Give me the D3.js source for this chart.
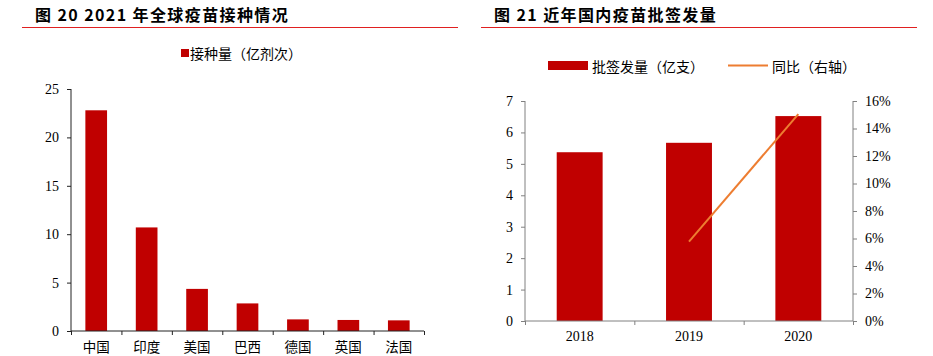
<!DOCTYPE html>
<html><head><meta charset="utf-8">
<script src="https://cdn.jsdelivr.net/npm/d3@7"></script>
<style>
body{margin:0;background:#fff;}
svg{display:block;}
.ttl{font-family:"Noto Sans CJK SC","Noto Sans",sans-serif;font-weight:700;font-size:16px;fill:#000;letter-spacing:1.4px;}
.lg{font-family:"Noto Sans CJK SC","Noto Sans",sans-serif;font-size:14px;fill:#000;}
.num text{font-family:"Liberation Serif","Times New Roman",serif;font-size:14px;fill:#000;}
.cat text{font-family:"Noto Sans CJK SC",sans-serif;font-size:13.5px;fill:#000;}
</style>
</head><body>
<svg id="c" width="933" height="356"></svg>
<script>
// ---- Data ----
const countries = ["中国","印度","美国","巴西","德国","英国","法国"];
const doses = [22.8, 10.7, 4.35, 2.85, 1.2, 1.14, 1.1];
const leftTicks = [0,5,10,15,20,25];

const years = ["2018","2019","2020"];
const lotRelease = [5.37, 5.67, 6.52];
const yoyYears = ["2019","2020"];
const yoy = [0.0577, 0.1505];
const leftTicks2 = [0,1,2,3,4,5,6,7];
const rightTicks2 = [0,0.02,0.04,0.06,0.08,0.10,0.12,0.14,0.16];

const RED = "#C00000", ORANGE = "#ED7D31";
const svg = d3.select("#c");

// ---- Titles ----
svg.append("text").attr("class","ttl").attr("x",35).attr("y",21).text("图 20 2021 年全球疫苗接种情况");
svg.append("line").attr("x1",22).attr("x2",458).attr("y1",27.5).attr("y2",27.5).attr("stroke","#e02020").attr("stroke-width",1);
svg.append("text").attr("class","ttl").attr("x",494).attr("y",21).text("图 21 近年国内疫苗批签发量");
svg.append("line").attr("x1",481).attr("x2",917).attr("y1",27.5).attr("y2",27.5).attr("stroke","#e02020").attr("stroke-width",1);

// ---- Left chart ----
{
  const x0=71, x1=424, yb=331, yt=89;
  const x = d3.scaleBand().domain(countries).range([x0,x1]).paddingInner(0.57).paddingOuter(0.285);
  const xi = d3.scaleLinear().domain([0,countries.length]).range([x0,x1]);
  const y = d3.scaleLinear().domain([0,25]).range([yb,yt]);
  const g = svg.append("g");
  g.selectAll("rect.bar").data(countries).join("rect").attr("class","bar")
    .attr("x",d=>x(d)).attr("width",x.bandwidth())
    .attr("y",(d,i)=>y(doses[i])).attr("height",(d,i)=>yb-y(doses[i]))
    .attr("fill",RED);
  const ya = g.append("g").attr("class","num").attr("transform",`translate(${x0},0)`)
    .call(d3.axisLeft(y).tickValues(leftTicks).tickSize(4).tickPadding(8).tickFormat(d3.format("d")));
  ya.select(".domain").attr("stroke","#222").attr("d",`M0,${yt}V${yb}`);
  ya.selectAll(".tick line").attr("stroke","#222");
  const xa = g.append("g").attr("transform",`translate(0,${yb})`)
    .call(d3.axisBottom(xi).tickValues(d3.range(countries.length+1)).tickSize(4).tickFormat(""));
  xa.select(".domain").attr("stroke","#222").attr("d",`M${x0},0H${x1}`);
  xa.selectAll(".tick line").attr("stroke","#222");
  const xl = g.append("g").attr("class","cat").attr("transform",`translate(0,${yb})`)
    .call(d3.axisBottom(x).tickSize(0).tickPadding(11));
  xl.select(".domain").remove();
  // legend
  svg.append("rect").attr("x",181).attr("y",49).attr("width",8).attr("height",8).attr("fill",RED);
  svg.append("text").attr("class","lg").attr("x",190).attr("y",53).attr("dominant-baseline","central").text("接种量（亿剂次）");
}

// ---- Right chart ----
{
  const x0=525, x1=853, yb=321, yt=101;
  const x = d3.scaleBand().domain(years).range([x0,x1]).paddingInner(0.58).paddingOuter(0.29);
  const xi = d3.scaleLinear().domain([0,years.length]).range([x0,x1]);
  const y = d3.scaleLinear().domain([0,7]).range([yb,yt]);
  const y2 = d3.scaleLinear().domain([0,0.16]).range([yb,yt]);
  const g = svg.append("g");
  g.selectAll("rect.bar").data(years).join("rect").attr("class","bar")
    .attr("x",d=>x(d)).attr("width",x.bandwidth())
    .attr("y",(d,i)=>y(lotRelease[i])).attr("height",(d,i)=>yb-y(lotRelease[i]))
    .attr("fill",RED);
  const AX="#808080";
  const ya = g.append("g").attr("class","num").attr("transform",`translate(${x0},0)`)
    .call(d3.axisLeft(y).tickValues(leftTicks2).tickSize(4).tickPadding(8).tickFormat(d3.format("d")));
  ya.select(".domain").attr("stroke",AX).attr("d",`M0,${yt}V${yb}`);
  ya.selectAll(".tick line").attr("stroke",AX);
  const yr = g.append("g").attr("class","num").attr("transform",`translate(${x1},0)`)
    .call(d3.axisRight(y2).tickValues(rightTicks2).tickSize(4).tickPadding(8).tickFormat(d3.format(".0%")));
  yr.select(".domain").attr("stroke",AX).attr("d",`M0,${yt}V${yb}`);
  yr.selectAll(".tick line").attr("stroke",AX);
  const xa = g.append("g").attr("transform",`translate(0,${yb})`)
    .call(d3.axisBottom(xi).tickValues(d3.range(years.length+1)).tickSize(4).tickFormat(""));
  xa.select(".domain").attr("stroke",AX).attr("d",`M${x0},0H${x1}`);
  xa.selectAll(".tick line").attr("stroke",AX);
  const xl = g.append("g").attr("class","num").attr("transform",`translate(0,${yb})`)
    .call(d3.axisBottom(x).tickSize(0).tickPadding(10));
  xl.select(".domain").remove();
  const line = d3.line().x((d,i)=>x(yoyYears[i])+x.bandwidth()/2).y(d=>y2(d));
  g.append("path").datum(yoy).attr("d",line).attr("fill","none").attr("stroke",ORANGE).attr("stroke-width",2);
  // legend
  svg.append("rect").attr("x",548).attr("y",61).attr("width",40).attr("height",9).attr("fill",RED);
  svg.append("text").attr("class","lg").attr("x",592).attr("y",66).attr("dominant-baseline","central").text("批签发量（亿支）");
  svg.append("line").attr("x1",728).attr("x2",768).attr("y1",65.5).attr("y2",65.5).attr("stroke",ORANGE).attr("stroke-width",2);
  svg.append("text").attr("class","lg").attr("x",772).attr("y",66).attr("dominant-baseline","central").text("同比（右轴）");
}
</script>
</body></html>
